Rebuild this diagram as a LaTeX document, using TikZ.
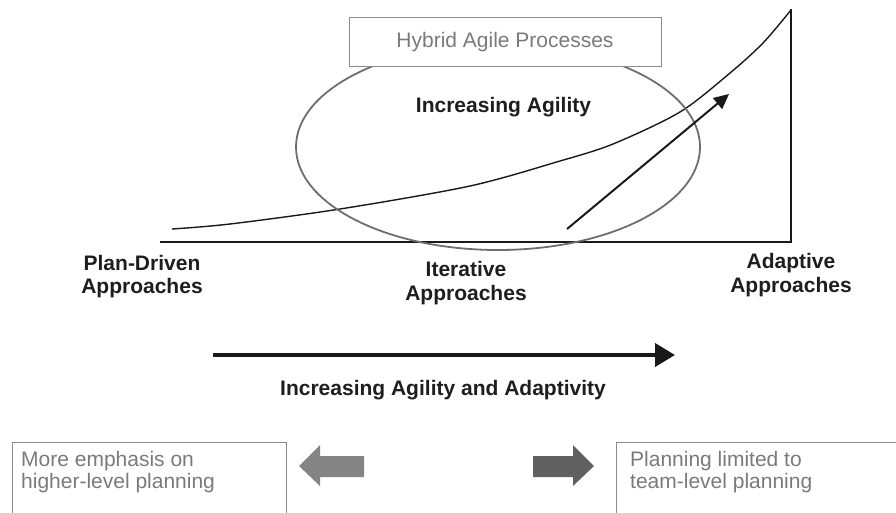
\documentclass[tikz,border=0pt]{standalone}
\usepackage{fontspec}
\setmainfont{Liberation Sans}
\usetikzlibrary{arrows.meta,shapes.geometric}
\definecolor{boxtext}{HTML}{7A7A7A}
\definecolor{boxline}{HTML}{8C8C8C}
\definecolor{ellcol}{HTML}{6E6E6E}
\definecolor{larrow}{HTML}{848484}
\definecolor{rarrow}{HTML}{606060}
\definecolor{labcol}{HTML}{1E1E1E}
\tikzset{
  boldlab/.style={font=\fontsize{21}{23.5}\selectfont\bfseries, text=labcol, align=center, inner sep=0pt, anchor=base},
  graytext/.style={font=\fontsize{21}{22}\selectfont, text=boxtext, align=left, inner sep=0pt, anchor=base west},
  frame/.style={draw=boxline, line width=1pt},
}
\begin{document}
\begin{tikzpicture}[x=1pt,y=-1pt]
\useasboundingbox (0,0) rectangle (896,512);
\clip (0,0) rectangle (896,512);
% axes
\coordinate (origin) at (160,242);
\coordinate (corner) at (791,242);
\coordinate (top) at (791,9);
\draw[line width=1.6pt, black!90] (origin) -- (corner) -- (top);
% curve
\draw[line width=1.4pt, black!90] plot[smooth, tension=0.5] coordinates {(172,229) (230,224) (340,209) (470,186) (560,161) (613,144) (680,112) (730,73) (763,43) (791,10)};
% ellipse
\node[draw=ellcol, line width=1.8pt, ellipse, minimum width=404pt, minimum height=206pt, inner sep=0pt] (ell) at (498,147) {};
% hybrid box
\node[frame, fill=white, minimum width=312pt, minimum height=49pt, inner sep=0pt] (hybrid) at (505,41.5) {};
\node[font=\fontsize{21}{24}\selectfont, text=boxtext, inner sep=0pt, anchor=base] (hybridtxt) at (505,47) {Hybrid Agile Processes};
% labels
\node[boldlab] (agility) at (503.5,112) {Increasing Agility};
\node[boldlab] (plan) at (142,293.5) {Plan-Driven\\Approaches};
\node[boldlab] (iter) at (466,300) {Iterative\\Approaches};
\node[boldlab] (adapt) at (791,292) {Adaptive\\Approaches};
% diagonal arrow
\coordinate (dstart) at (567,229);
\coordinate (dend) at (729,94);
\draw[line width=2pt, black!90, -{Triangle[length=15pt,width=14pt]}] (dstart) -- (dend);
% long arrow
\coordinate (lstart) at (213,355);
\coordinate (lend) at (675,355);
\draw[line width=4pt, black!90, -{Triangle[length=20pt,width=23pt]}] (lstart) -- (lend);
\node[boldlab] (incr) at (443,395) {Increasing Agility and Adaptivity};
% bottom boxes
\draw[frame] (12,530) -- (12,442) -- (286,442) -- (286,530);
\node[graytext] (lefttxt) at (21,488) {More emphasis on\\higher-level planning};
\draw[frame] (616,530) -- (616,442) -- (910,442);
\node[graytext] (righttxt) at (630,488) {Planning limited to\\team-level planning};
% block arrows
\fill[larrow] (299,466) -- (320,445) -- (320,456) -- (364,456) -- (364,477) -- (320,477) -- (320,486) -- cycle;
\fill[rarrow] (594,466) -- (573,445) -- (573,456) -- (533,456) -- (533,477) -- (573,477) -- (573,486) -- cycle;
\end{tikzpicture}
\end{document}
